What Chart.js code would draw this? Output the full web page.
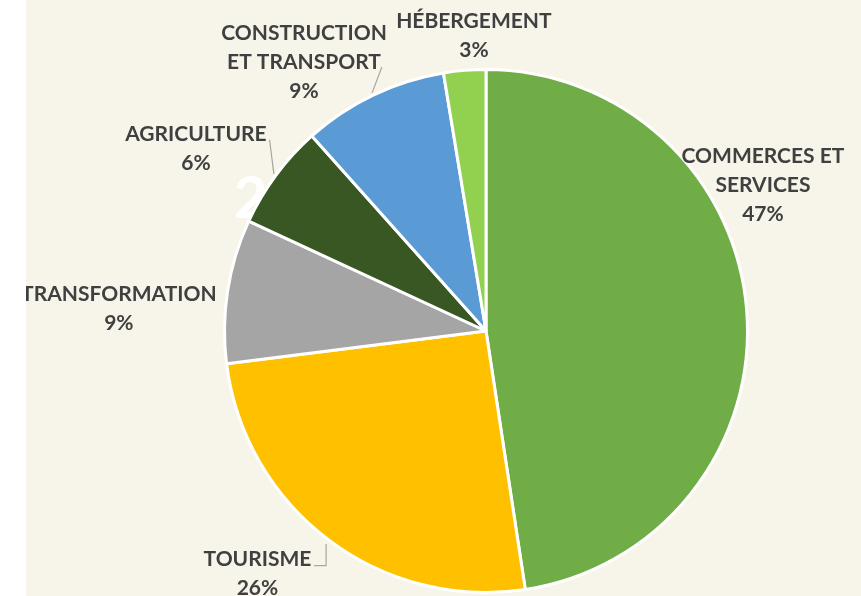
<!doctype html>
<html lang="fr">
<head>
<meta charset="utf-8">
<title>Répartition par secteur</title>
<script src="https://cdn.jsdelivr.net/npm/chart.js@4.4.1/dist/chart.umd.min.js"></script>
<style>
    body { margin: 0; background: #fff; }
    #wrap { position: absolute; left: 26px; top: 0; width: 835px; height: 596px; background: #F7F5E9; }
</style>
</head>
<body>
<div id="wrap"><canvas id="pie"></canvas></div>
<script>
    // data (slice shares, clockwise from 12 o'clock)
    const categories = [['COMMERCES ET', 'SERVICES'], ['TOURISME'], ['TRANSFORMATION'], ['AGRICULTURE'], ['CONSTRUCTION', 'ET TRANSPORT'], ['HÉBERGEMENT']];
    const shares = [47.6, 25.4, 8.9, 6.5, 9.0, 2.6];
    const shareLabels = ['47%', '26%', '9%', '6%', '9%', '3%'];
    const colors = ['#70AD47', '#FFC000', '#A5A5A5', '#385723', '#5B9BD5', '#92D050'];

    // label block centres, relative to pie centre in units of radius
    const labelPos = [[1.053, -0.553], [-0.869, 0.923], [-1.396, -0.085], [-1.103, -0.692], [-0.692, -1.023], [-0.046, -1.123]];
    // leader lines: extra points after the slice edge
    const leaders = {
        1: [[-0.608, 0.892], [-0.654, 0.892]],
        3: [[-0.823, -0.727]],
        4: [[-0.396, -1.004]],
    };

    const labelPlugin = {
        id: 'sliceLabels',
        beforeDatasetsDraw(chart) {
            const arc = chart.getDatasetMeta(0).data[0];
            const ctx = chart.ctx, r = arc.outerRadius + 1.5;
            // stray white "2" sitting behind the pie
            ctx.save();
            ctx.fillStyle = '#ffffff';
            ctx.font = 'bold 58px Lato';
            ctx.textAlign = 'center';
            ctx.textBaseline = 'middle';
            ctx.fillText('2', arc.x - 0.895 * r, arc.y - 0.5 * r);
            ctx.restore();
        },
        afterDatasetsDraw(chart) {
            const ctx = chart.ctx;
            const arcs = chart.getDatasetMeta(0).data;
            const cx = arcs[0].x, cy = arcs[0].y, r = arcs[0].outerRadius + 1.5;
            ctx.save();
            ctx.strokeStyle = '#A6A6A6';
            ctx.lineWidth = 1.2;
            Object.keys(leaders).forEach(function (k) {
                const a = arcs[k];
                const mid = (a.startAngle + a.endAngle) / 2;
                ctx.beginPath();
                if (k == 1) {
                    ctx.moveTo(cx + leaders[k][0][0] * r, cy + Math.sin(mid) * (r + 4));
                } else {
                    ctx.moveTo(cx + Math.cos(mid) * (r + 1), cy + Math.sin(mid) * (r + 1));
                }
                leaders[k].forEach(function (p) {
                    ctx.lineTo(cx + p[0] * r, cy + p[1] * r);
                });
                ctx.stroke();
            });

            ctx.fillStyle = '#404040';
            ctx.font = 'bold 21px Lato';
            ctx.textAlign = 'center';
            ctx.textBaseline = 'middle';
            const lh = 29;
            categories.forEach(function (cat, i) {
                const lines = cat.concat([shareLabels[i]]);
                const x = cx + labelPos[i][0] * r;
                const y0 = cy + labelPos[i][1] * r - (lines.length - 1) * lh / 2;
                lines.forEach(function (t, j) {
                    ctx.fillText(t, x, y0 + j * lh);
                });
            });
            ctx.restore();
        },
    };

    new Chart(document.getElementById('pie'), {
        type: 'pie',
        data: {
            labels: categories.map(c => c.join(' ')),
            datasets: [{
                data: shares,
                backgroundColor: colors,
                borderColor: '#ffffff',
                borderWidth: 3,
                hoverOffset: 0,
            }],
        },
        options: {
            responsive: true,
            maintainAspectRatio: false,
            animation: false,
            layout: {
                padding: { left: 197, right: 112, top: 68, bottom: 2 },
            },
            plugins: {
                legend: { display: false },
                tooltip: { enabled: false },
            },
        },
        plugins: [labelPlugin],
    });
</script>
</body>
</html>
